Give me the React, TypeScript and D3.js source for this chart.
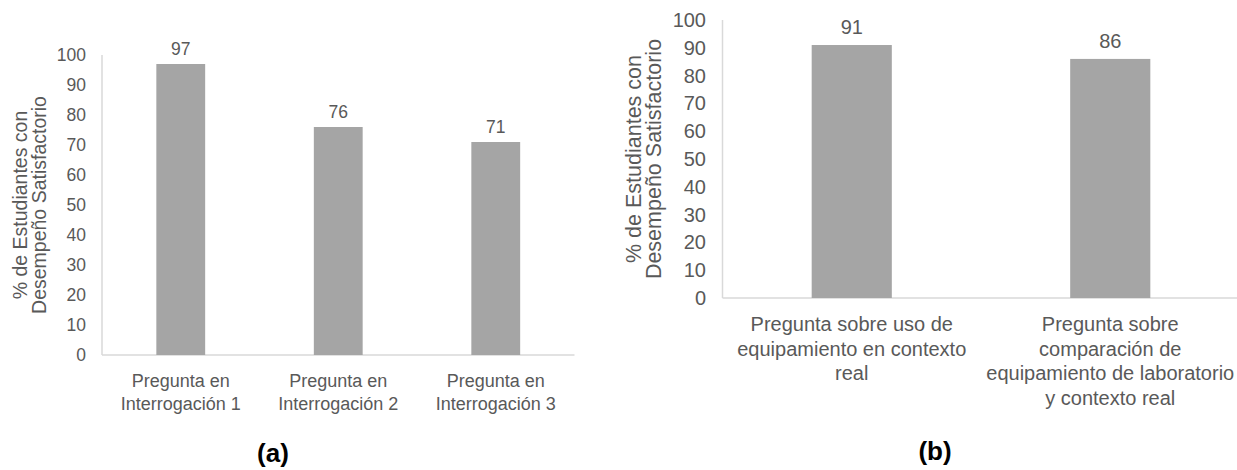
import React from "react";
import * as d3 from "d3";

const leftCategories: string[][] = [
  ["Pregunta en", "Interrogación 1"],
  ["Pregunta en", "Interrogación 2"],
  ["Pregunta en", "Interrogación 3"],
];
const leftValues: number[] = [97, 76, 71];

const rightCategories: string[][] = [
  ["Pregunta sobre uso de", "equipamiento en contexto", "real"],
  ["Pregunta sobre", "comparación de", "equipamiento de laboratorio", "y contexto real"],
];
const rightValues: number[] = [91, 86];

const yTicks: number[] = [0, 10, 20, 30, 40, 50, 60, 70, 80, 90, 100];
const yTitleLines: string[] = ["% de Estudiantes con", "Desempeño Satisfactorio"];
const panelLabels: string[] = ["(a)", "(b)"];

const FONT = "'Liberation Sans', Arial, Helvetica, sans-serif";
const TEXT = "#595959";
const AXIS = "#d9d9d9";
const BAR = "#a5a5a5";

type PanelProps = {
  cats: string[][];
  values: number[];
  x0: number;
  x1: number;
  yTop: number;
  yBottom: number;
  tickX: number;
  tickFont: number;
  catFont: number;
  catBaseline: number;
  catLine: number;
  labelFont: number;
  labelGap: number;
  titleFont: number;
  titleX: number[];
  panelLabel: string;
  panelX: number;
  panelY: number;
  panelFont: number;
};

function Panel(p: PanelProps) {
  const x = d3
    .scaleBand<number>()
    .domain(p.values.map((_, i) => i))
    .range([p.x0, p.x1])
    .paddingInner(0.69)
    .paddingOuter(0.345);
  const y = d3.scaleLinear().domain([0, 100]).range([p.yBottom, p.yTop]);
  const titleCY = (p.yTop + p.yBottom) / 2;
  return (
    <g fontFamily={FONT}>
      {/* axes */}
      <line x1={p.x0} x2={p.x0} y1={y(100)} y2={y(0)} stroke={AXIS} strokeWidth={1.5} />
      <line x1={p.x0} x2={p.x1} y1={y(0)} y2={y(0)} stroke={AXIS} strokeWidth={1.5} />
      {/* ticks */}
      {yTicks.map((t) => (
        <text
          key={t}
          x={p.tickX}
          y={y(t)}
          textAnchor="end"
          dominantBaseline="central"
          fontSize={p.tickFont}
          fill={TEXT}
        >
          {t}
        </text>
      ))}
      {/* y title */}
      {yTitleLines.map((line, i) => (
        <text
          key={i}
          transform={`translate(${p.titleX[i]},${titleCY}) rotate(-90)`}
          textAnchor="middle"
          fontSize={p.titleFont}
          fill={TEXT}
        >
          {line}
        </text>
      ))}
      {/* bars */}
      {p.values.map((v, i) => (
        <g key={i}>
          <rect
            x={x(i)!}
            y={y(v)}
            width={x.bandwidth()}
            height={y(0) - y(v)}
            fill={BAR}
          />
          <text
            x={x(i)! + x.bandwidth() / 2}
            y={y(v) - p.labelGap}
            textAnchor="middle"
            fontSize={p.labelFont}
            fill={TEXT}
          >
            {v}
          </text>
          {p.cats[i].map((line, j) => (
            <text
              key={j}
              x={x(i)! + x.bandwidth() / 2}
              y={p.catBaseline + j * p.catLine}
              textAnchor="middle"
              fontSize={p.catFont}
              fill={TEXT}
            >
              {line}
            </text>
          ))}
        </g>
      ))}
      <text
        x={p.panelX}
        y={p.panelY}
        textAnchor="middle"
        fontSize={p.panelFont}
        fontWeight="bold"
        fill="#000"
      >
        {p.panelLabel}
      </text>
    </g>
  );
}

export default function App() {
  return (
    <div style={{ position: "absolute", left: 0, top: 0 }}>
      <svg width={1237} height={470} style={{ display: "block", background: "#fff" }}>
        <Panel
          cats={leftCategories}
          values={leftValues}
          x0={102}
          x1={574.5}
          yTop={55}
          yBottom={355}
          tickX={86}
          tickFont={17.5}
          catFont={18}
          catBaseline={387}
          catLine={23}
          labelFont={17.5}
          labelGap={9}
          titleFont={19.5}
          titleX={[27, 46]}
          panelLabel={panelLabels[0]}
          panelX={273}
          panelY={462}
          panelFont={26}
        />
        <Panel
          cats={rightCategories}
          values={rightValues}
          x0={722.5}
          x1={1239.5}
          yTop={20}
          yBottom={298}
          tickX={706}
          tickFont={20}
          catFont={20}
          catBaseline={331}
          catLine={24.7}
          labelFont={20}
          labelGap={11}
          titleFont={21.5}
          titleX={[641, 661]}
          panelLabel={panelLabels[1]}
          panelX={935}
          panelY={460}
          panelFont={26}
        />
      </svg>
    </div>
  );
}
